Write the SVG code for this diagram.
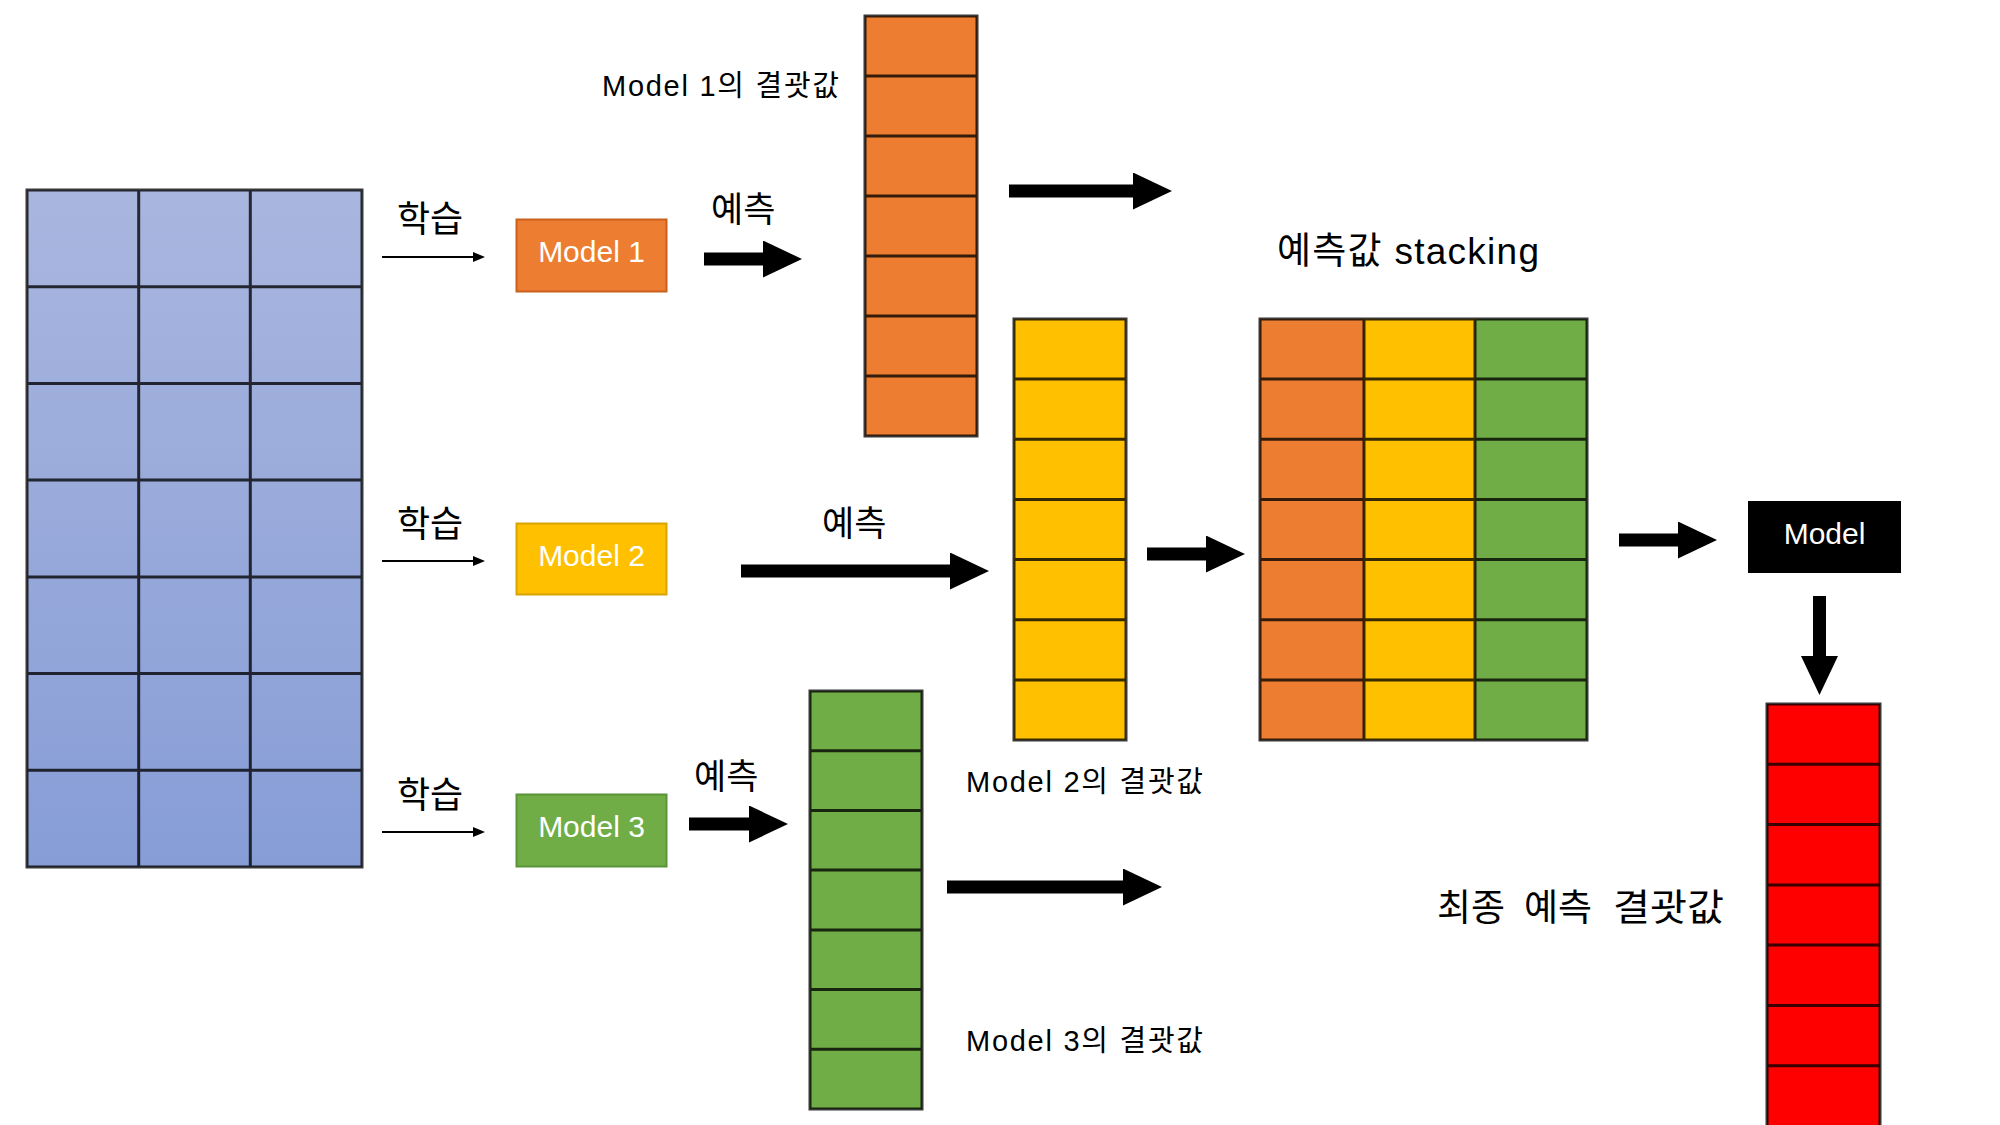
<svg xmlns="http://www.w3.org/2000/svg" width="2000" height="1125" viewBox="0 0 2000 1125">
<defs>
<linearGradient id="blueGrad" x1="0" y1="0" x2="0" y2="1">
<stop offset="0" stop-color="#A9B6DF"/>
<stop offset="1" stop-color="#879DD6"/>
</linearGradient>
<marker id="bigHead" markerUnits="userSpaceOnUse" markerWidth="40" markerHeight="38" refX="1" refY="18.5" orient="auto" viewBox="0 0 40 38">
<path d="M0,0 L39,18.5 L0,37 z" fill="#000"/>
</marker>
<marker id="smallHead" markerUnits="userSpaceOnUse" markerWidth="13" markerHeight="11" refX="1" refY="5" orient="auto" viewBox="0 0 13 11">
<path d="M0,0 L12,5 L0,10 z" fill="#000"/>
</marker>
</defs>
<style>
.grid{stroke:#000;stroke-opacity:0.78;stroke-width:3;fill:none}
.lbl{font-family:"Liberation Sans","Noto Sans CJK KR",sans-serif;fill:#000}
.kr{font-family:"Noto Sans CJK KR","Liberation Sans",sans-serif;fill:#000}
.mtxt{font-family:"Liberation Sans","Noto Sans CJK KR",sans-serif;fill:#fff;font-size:30px;text-anchor:middle}
.thick{stroke:#000;stroke-width:13;fill:none;marker-end:url(#bigHead)}
.thin{stroke:#000;stroke-width:2;fill:none;marker-end:url(#smallHead)}
</style>
<rect width="2000" height="1125" fill="#fff"/>

<g id="training-data">
<rect x="27" y="190" width="335" height="677" fill="url(#blueGrad)"/>
<path class="grid" d="M27,190 H362 V867 H27 Z M138.7,190 V867 M250.3,190 V867 M27,286.7 H362 M27,383.4 H362 M27,480.1 H362 M27,576.9 H362 M27,673.6 H362 M27,770.3 H362"/>
</g>

<g id="model1">
<rect x="516.5" y="219.5" width="150" height="72" fill="#ED7D31" stroke="#C9611C" stroke-width="2"/>
<text class="mtxt" x="591.5" y="262">Model 1</text>
</g>
<g id="model2">
<rect x="516.5" y="523.5" width="150" height="71" fill="#FFC000" stroke="#D9A300" stroke-width="2"/>
<text class="mtxt" x="591.5" y="566">Model 2</text>
</g>
<g id="model3">
<rect x="516.5" y="794.5" width="150" height="72" fill="#70AD47" stroke="#5A9438" stroke-width="2"/>
<text class="mtxt" x="591.5" y="837">Model 3</text>
</g>

<g id="model1-result">
<rect x="865" y="16" width="112" height="420" fill="#ED7D31"/>
<path class="grid" d="M865,16 H977 V436 H865 Z M865,76 H977 M865,136 H977 M865,196 H977 M865,256 H977 M865,316 H977 M865,376 H977"/>
</g>

<g id="model2-result">
<rect x="1014" y="319" width="112" height="421" fill="#FFC000"/>
<path class="grid" d="M1014,319 H1126 V740 H1014 Z M1014,379.1 H1126 M1014,439.3 H1126 M1014,499.4 H1126 M1014,559.6 H1126 M1014,619.7 H1126 M1014,679.9 H1126"/>
</g>

<g id="model3-result">
<rect x="810" y="691" width="112" height="418" fill="#70AD47"/>
<path class="grid" d="M810,691 H922 V1109 H810 Z M810,750.7 H922 M810,810.4 H922 M810,870.1 H922 M810,929.9 H922 M810,989.6 H922 M810,1049.3 H922"/>
</g>

<g id="stacked">
<rect x="1260" y="319" width="104" height="421" fill="#ED7D31"/>
<rect x="1364" y="319" width="111" height="421" fill="#FFC000"/>
<rect x="1475" y="319" width="112" height="421" fill="#70AD47"/>
<path class="grid" d="M1260,319 H1587 V740 H1260 Z M1364,319 V740 M1475,319 V740 M1260,379.1 H1587 M1260,439.3 H1587 M1260,499.4 H1587 M1260,559.6 H1587 M1260,619.7 H1587 M1260,679.9 H1587"/>
</g>

<g id="meta-model">
<rect x="1748" y="501" width="153" height="72" fill="#000"/>
<text class="mtxt" x="1824.5" y="544">Model</text>
</g>

<g id="final-result">
<rect x="1767" y="704" width="113" height="424" fill="#FF0000"/>
<path class="grid" d="M1767,1128 V704 H1880 V1128 M1767,764.3 H1880 M1767,824.6 H1880 M1767,884.9 H1880 M1767,945.1 H1880 M1767,1005.4 H1880 M1767,1065.7 H1880"/>
</g>

<g id="labels">
<text class="kr" x="397" y="232" font-size="36">학습</text>
<text class="kr" x="397" y="537" font-size="36">학습</text>
<text class="kr" x="397" y="808" font-size="36">학습</text>
<text class="kr" x="711" y="222" font-size="35">예측</text>
<text class="kr" x="822" y="536" font-size="35">예측</text>
<text class="kr" x="694" y="789" font-size="35">예측</text>
<text class="lbl" x="602" y="96" font-size="29" textLength="237" lengthAdjust="spacing">Model 1의 결괏값</text>
<text class="lbl" x="966" y="792" font-size="29" textLength="237" lengthAdjust="spacing">Model 2의 결괏값</text>
<text class="lbl" x="966" y="1051" font-size="29" textLength="237" lengthAdjust="spacing">Model 3의 결괏값</text>
<text class="lbl" x="1277" y="264" font-size="37" textLength="262" lengthAdjust="spacing">예측값 stacking</text>
<text class="kr" y="921" font-size="37"><tspan x="1437">최종</tspan> <tspan x="1524">예측</tspan> <tspan x="1613" textLength="111" lengthAdjust="spacingAndGlyphs">결괏값</tspan></text>
</g>

<g id="connectors">
<line class="thin" x1="382" y1="257" x2="474" y2="257"/>
<line class="thin" x1="382" y1="561" x2="474" y2="561"/>
<line class="thin" x1="382" y1="832" x2="474" y2="832"/>
<line class="thick" x1="704" y1="259" x2="764" y2="259"/>
<line class="thick" x1="741" y1="571" x2="951" y2="571"/>
<line class="thick" x1="689" y1="824" x2="750" y2="824"/>
<line class="thick" x1="1009" y1="191" x2="1134" y2="191"/>
<line class="thick" x1="1147" y1="554" x2="1207" y2="554"/>
<line class="thick" x1="947" y1="887" x2="1124" y2="887"/>
<line class="thick" x1="1619" y1="540" x2="1679" y2="540"/>
<line class="thick" x1="1819.5" y1="596" x2="1819.5" y2="657"/>
</g>
</svg>
